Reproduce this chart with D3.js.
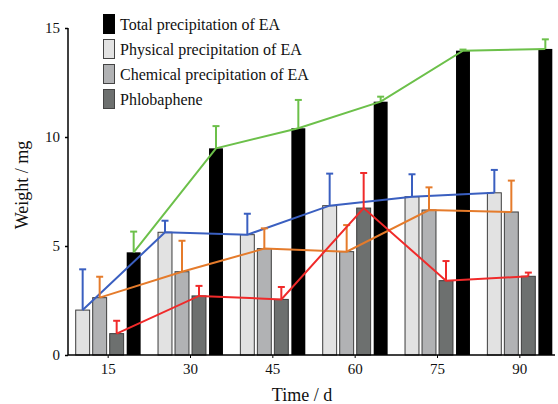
<!DOCTYPE html>
<html>
<head>
<meta charset="utf-8">
<script src="https://cdn.jsdelivr.net/npm/d3@7"></script>
<style>
  html, body { margin: 0; padding: 0; background: #fff; }
  svg { display: block; }
  text { font-family: "Liberation Serif", "DejaVu Serif", serif; fill: #111; }
</style>
</head>
<body>
<svg id="chart" width="558" height="404"></svg>
<script>
// ---- data ----
const categories = ["15", "30", "45", "60", "75", "90"];
const seriesNames = ["Physical precipitation of EA", "Chemical precipitation of EA", "Phlobaphene", "Total precipitation of EA"];
const legendOrder = ["Total precipitation of EA", "Physical precipitation of EA", "Chemical precipitation of EA", "Phlobaphene"];
const physical = [2.06, 5.63, 5.52, 6.85, 7.26, 7.44];
const physicalErr = [1.87, 0.53, 0.96, 1.47, 1.03, 1.05];
const chemical = [2.63, 3.82, 4.88, 4.74, 6.65, 6.56];
const chemicalErr = [0.96, 1.42, 0.93, 1.22, 1.04, 1.44];
const phlobaphene = [0.98, 2.71, 2.55, 6.74, 3.41, 3.61];
const phlobapheneErr = [0.59, 0.46, 0.57, 1.61, 0.90, 0.17];
const total = [4.71, 9.48, 10.40, 11.62, 13.96, 14.04];
const totalErr = [0.95, 1.02, 1.30, 0.23, 0.05, 0.44];
const yTicks = [0, 5, 10, 15];

const values = {
  "Physical precipitation of EA": physical,
  "Chemical precipitation of EA": chemical,
  "Phlobaphene": phlobaphene,
  "Total precipitation of EA": total
};
const errors = {
  "Physical precipitation of EA": physicalErr,
  "Chemical precipitation of EA": chemicalErr,
  "Phlobaphene": phlobapheneErr,
  "Total precipitation of EA": totalErr
};
const fills = {
  "Physical precipitation of EA": "#e2e2e2",
  "Chemical precipitation of EA": "#b1b2b4",
  "Phlobaphene": "#6d706f",
  "Total precipitation of EA": "#000000"
};
const lineColors = {
  "Physical precipitation of EA": "#3a5fc0",
  "Chemical precipitation of EA": "#e57b2b",
  "Phlobaphene": "#f02a2a",
  "Total precipitation of EA": "#6cc04a"
};

// ---- layout ----
const svg = d3.select("#chart");
const x0 = d3.scaleBand().domain(categories).range([67, 561]).padding(0);
const bw = x0.bandwidth();
const x1 = d3.scaleBand().domain(seriesNames)
  .range([bw / 2 - 34, bw / 2 + 34]).paddingInner(0.18).paddingOuter(0.09);
const y = d3.scaleLinear().domain([0, 15]).range([355, 28]);

// bars
const g = svg.append("g");
seriesNames.forEach(s => {
  g.selectAll(null).data(categories).enter().append("rect")
    .attr("x", (c) => x0(c) + x1(s))
    .attr("y", (c, i) => y(values[s][i]))
    .attr("width", x1.bandwidth())
    .attr("height", (c, i) => y(0) - y(values[s][i]))
    .attr("fill", fills[s])
    .attr("stroke", s === "Total precipitation of EA" ? "none" : "#3c3c3c")
    .attr("stroke-width", 1);
});

// lines + error bars
const order = ["Total precipitation of EA", "Physical precipitation of EA", "Chemical precipitation of EA", "Phlobaphene"];
order.forEach(s => {
  const cx = c => x0(c) + x1(s) + x1.bandwidth() / 2;
  const line = d3.line().x(d => cx(d.c)).y(d => y(d.v));
  const pts = categories.map((c, i) => ({c, v: values[s][i], e: errors[s][i]}));
  // error bars
  const eg = svg.append("g").attr("stroke", lineColors[s]).attr("stroke-width", 2);
  eg.selectAll(null).data(pts).enter().append("line")
    .attr("x1", d => cx(d.c)).attr("x2", d => cx(d.c))
    .attr("y1", d => y(d.v)).attr("y2", d => y(d.v + d.e));
  eg.selectAll(null).data(pts).enter().append("line")
    .attr("x1", d => cx(d.c) - 3.5).attr("x2", d => cx(d.c) + 3.5)
    .attr("y1", d => y(d.v + d.e)).attr("y2", d => y(d.v + d.e));
  svg.append("path").datum(pts)
    .attr("d", line)
    .attr("fill", "none")
    .attr("stroke", lineColors[s])
    .attr("stroke-width", 2);
});

// axes
const yAxis = svg.append("g").attr("transform", "translate(68,0)")
  .call(d3.axisLeft(y).tickValues(yTicks).tickSize(3).tickPadding(5).tickSizeOuter(0));
yAxis.select(".domain").remove();
yAxis.append("line").attr("x1", 0).attr("x2", 0).attr("y1", y(0)).attr("y2", y(15))
  .attr("stroke", "#000").attr("stroke-width", 1.5);
yAxis.selectAll("text").style("font-size", "15px").style("font-family", "Liberation Serif");
yAxis.selectAll(".tick line").attr("stroke-width", 1.5);

const xAxis = svg.append("g").attr("transform", `translate(0,${y(0)})`)
  .call(d3.axisBottom(x0).tickSize(3).tickPadding(5).tickSizeOuter(0));
xAxis.select(".domain").remove();
xAxis.append("line").attr("x1", 68).attr("x2", 555).attr("y1", 0).attr("y2", 0)
  .attr("stroke", "#000").attr("stroke-width", 1.5);
xAxis.selectAll("text").style("font-size", "15px").style("font-family", "Liberation Serif");

// axis titles
svg.append("text").attr("transform", "translate(28,185) rotate(-90)")
  .attr("text-anchor", "middle").style("font-size", "18px").text("Weight / mg");
svg.append("text").attr("x", 302).attr("y", 401)
  .attr("text-anchor", "middle").style("font-size", "18px").text("Time / d");

// legend
const lg = svg.append("g").attr("transform", "translate(103,14)");
legendOrder.forEach((s, i) => {
  const row = lg.append("g").attr("transform", `translate(0,${i * 25})`);
  row.append("rect").attr("x", 0.5).attr("y", 0.5).attr("width", 11).attr("height", 19)
    .attr("fill", fills[s]).attr("stroke", s === "Total precipitation of EA" ? "#000" : "#444");
  row.append("text").attr("x", 17).attr("y", 15.5).style("font-size", "16px").text(s);
});
</script>
</body>
</html>
